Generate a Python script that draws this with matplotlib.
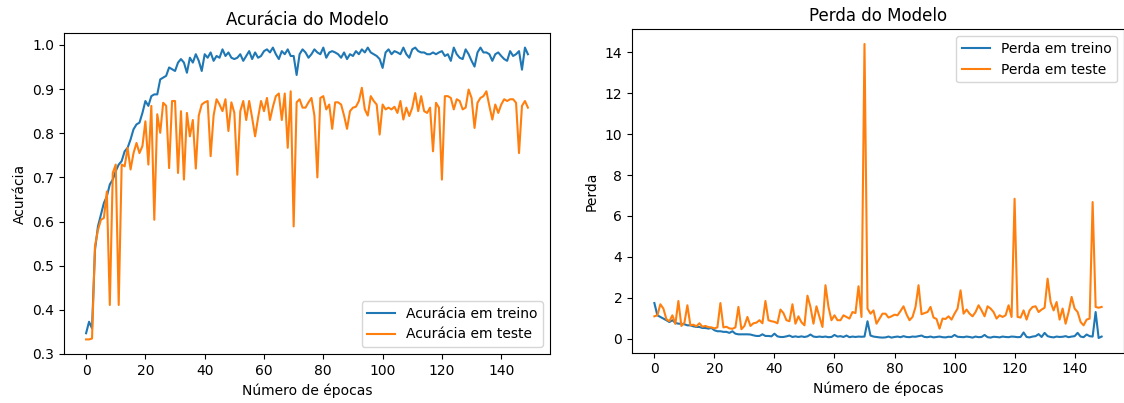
import numpy as np
import matplotlib
matplotlib.use("Agg")
from matplotlib import pyplot as plt

# acuracia (treino / teste) por epoca
train_acc = [0.347, 0.373, 0.358, 0.536, 0.589, 0.615, 0.642, 0.657, 0.684, 0.695,
             0.714, 0.729, 0.737, 0.759, 0.767, 0.786, 0.809, 0.820, 0.824, 0.846,
             0.873, 0.862, 0.884, 0.888, 0.888, 0.922, 0.926, 0.930, 0.949, 0.945,
             0.941, 0.960, 0.968, 0.960, 0.937, 0.971, 0.960, 0.979, 0.964, 0.941,
             0.979, 0.971, 0.983, 0.964, 0.975, 0.971, 0.990, 0.975, 0.983, 0.971,
             0.968, 0.971, 0.979, 0.964, 0.975, 0.986, 0.968, 0.983, 0.971, 0.975,
             0.986, 0.990, 0.983, 0.994, 0.979, 0.968, 0.986, 0.979, 0.990, 0.975,
             0.975, 0.932, 0.979, 0.990, 0.983, 0.971, 0.979, 0.990, 0.983, 0.979,
             0.994, 0.971, 0.983, 0.986, 0.983, 0.979, 0.971, 0.983, 0.968, 0.979,
             0.975, 0.986, 0.979, 0.990, 0.983, 0.994, 0.983, 0.979, 0.975, 0.968,
             0.948, 0.983, 0.990, 0.979, 0.986, 0.983, 0.979, 0.994, 0.979, 0.971,
             0.990, 0.994, 0.986, 0.983, 0.983, 0.979, 0.979, 0.983, 0.979, 0.983,
             0.986, 0.975, 0.979, 0.964, 0.994, 0.979, 0.971, 0.968, 0.990, 0.979,
             0.964, 0.951, 0.983, 0.994, 0.983, 0.983, 0.979, 0.964, 0.979, 0.983,
             0.975, 0.968, 0.964, 0.986, 0.975, 0.979, 0.986, 0.944, 0.994, 0.979]

val_acc = [0.333, 0.333, 0.335, 0.544, 0.581, 0.604, 0.608, 0.668, 0.411, 0.710,
           0.729, 0.411, 0.729, 0.725, 0.767, 0.718, 0.755, 0.778, 0.755, 0.771,
           0.827, 0.729, 0.862, 0.604, 0.843, 0.801, 0.869, 0.862, 0.721, 0.873,
           0.873, 0.710, 0.850, 0.695, 0.846, 0.793, 0.830, 0.720, 0.840, 0.865,
           0.870, 0.873, 0.748, 0.840, 0.877, 0.865, 0.850, 0.877, 0.805, 0.870,
           0.846, 0.706, 0.850, 0.873, 0.830, 0.873, 0.835, 0.793, 0.835, 0.873,
           0.850, 0.880, 0.830, 0.860, 0.884, 0.890, 0.830, 0.890, 0.767, 0.895,
           0.589, 0.870, 0.877, 0.858, 0.858, 0.870, 0.880, 0.840, 0.700, 0.880,
           0.884, 0.854, 0.865, 0.810, 0.870, 0.870, 0.865, 0.840, 0.810, 0.850,
           0.858, 0.860, 0.873, 0.903, 0.854, 0.840, 0.884, 0.873, 0.865, 0.797,
           0.865, 0.854, 0.858, 0.854, 0.860, 0.846, 0.873, 0.831, 0.858, 0.839,
           0.858, 0.891, 0.850, 0.884, 0.850, 0.846, 0.858, 0.759, 0.869, 0.858,
           0.695, 0.884, 0.884, 0.880, 0.854, 0.877, 0.873, 0.854, 0.858, 0.899,
           0.880, 0.812, 0.869, 0.880, 0.884, 0.895, 0.862, 0.831, 0.865, 0.846,
           0.865, 0.877, 0.873, 0.877, 0.877, 0.869, 0.755, 0.862, 0.873, 0.858]

# perda (treino / teste) por epoca
train_loss = [1.74, 1.14, 1.06, 0.98, 0.90, 0.81, 0.90, 0.77, 0.73, 0.73,
              0.70, 0.65, 0.65, 0.60, 0.57, 0.57, 0.52, 0.52, 0.49, 0.52,
              0.41, 0.36, 0.36, 0.33, 0.33, 0.28, 0.36, 0.24, 0.21, 0.21,
              0.21, 0.21, 0.20, 0.16, 0.13, 0.13, 0.21, 0.13, 0.13, 0.11,
              0.24, 0.11, 0.08, 0.08, 0.11, 0.15, 0.08, 0.11, 0.08, 0.11,
              0.08, 0.11, 0.20, 0.10, 0.08, 0.10, 0.08, 0.10, 0.07, 0.08,
              0.18, 0.10, 0.12, 0.08, 0.15, 0.07, 0.10, 0.08, 0.10, 0.09,
              0.10, 0.85, 0.15, 0.10, 0.08, 0.06, 0.05, 0.06, 0.10, 0.05,
              0.08, 0.10, 0.07, 0.12, 0.08, 0.07, 0.10, 0.09, 0.12, 0.15,
              0.08, 0.07, 0.10, 0.06, 0.08, 0.10, 0.07, 0.06, 0.09, 0.08,
              0.18, 0.09, 0.08, 0.07, 0.10, 0.08, 0.05, 0.10, 0.07, 0.08,
              0.18, 0.07, 0.05, 0.09, 0.08, 0.06, 0.10, 0.08, 0.07, 0.10,
              0.09, 0.07, 0.08, 0.30, 0.08, 0.06, 0.10, 0.12, 0.22, 0.08,
              0.28, 0.12, 0.08, 0.06, 0.10, 0.08, 0.09, 0.12, 0.07, 0.10,
              0.12, 0.28, 0.10, 0.07, 0.20, 0.12, 0.10, 1.30, 0.03, 0.10]

val_loss = [1.09, 1.14, 1.68, 1.47, 0.95, 0.85, 1.14, 0.72, 1.84, 0.62,
            0.77, 1.63, 0.65, 0.68, 0.60, 0.75, 0.58, 0.62, 0.56, 0.55,
            0.50, 0.55, 1.74, 0.55, 0.58, 0.50, 0.48, 0.55, 1.55, 0.46,
            0.62, 1.06, 0.62, 0.75, 0.78, 0.90, 0.75, 1.84, 0.90, 0.85,
            0.82, 0.75, 1.42, 1.25, 0.90, 0.85, 1.68, 0.73, 1.09, 0.80,
            0.65, 2.10, 1.55, 0.73, 1.58, 1.06, 0.57, 2.61, 1.55, 0.90,
            1.14, 0.90, 0.90, 1.14, 1.06, 0.98, 1.30, 1.25, 2.56, 1.06,
            14.41, 1.47, 1.22, 1.38, 0.73, 0.98, 1.22, 1.22, 1.03, 1.09,
            1.17, 1.14, 1.35, 1.58, 1.19, 0.90, 1.06, 1.55, 2.61, 1.19,
            1.25, 1.30, 1.55, 1.03, 0.96, 0.49, 0.98, 0.96, 1.09, 0.93,
            1.22, 1.47, 2.36, 1.22, 1.42, 1.22, 1.09, 1.30, 1.63, 1.38,
            1.09, 1.58, 1.47, 1.30, 0.98, 1.14, 1.06, 1.14, 1.63, 1.06,
            6.84, 1.06, 1.03, 1.38, 0.93, 1.38, 1.55, 1.58, 1.30, 1.42,
            1.51, 2.93, 1.79, 1.38, 1.79, 0.93, 1.47, 0.73, 1.30, 2.04,
            1.47, 1.30, 0.81, 0.65, 0.93, 0.98, 6.68, 1.55, 1.51, 1.55]

epochs = np.arange(len(train_acc))

fig = plt.figure(figsize=(11.24, 4.03), dpi=100)
W, H = 1124, 403
ax1 = fig.add_axes([64 / W, 1 - 354 / H, 486 / W, 321 / H])
ax2 = fig.add_axes([632 / W, 1 - 352.7 / H, 492 / W, 323.4 / H])

ax1.plot(epochs, train_acc, label="Acurácia em treino")
ax1.plot(epochs, val_acc, label="Acurácia em teste")
ax1.set_title("Acurácia do Modelo")
ax1.set_xlabel("Número de épocas")
ax1.set_ylabel("Acurácia")
ax1.legend(loc="lower right")

ax2.plot(epochs, train_loss, label="Perda em treino")
ax2.plot(epochs, val_loss, label="Perda em teste")
ax2.set_title("Perda do Modelo")
ax2.set_xlabel("Número de épocas")
ax2.set_ylabel("Perda")
ax2.legend(loc="upper right")

fig.savefig("out.png", dpi=100)
